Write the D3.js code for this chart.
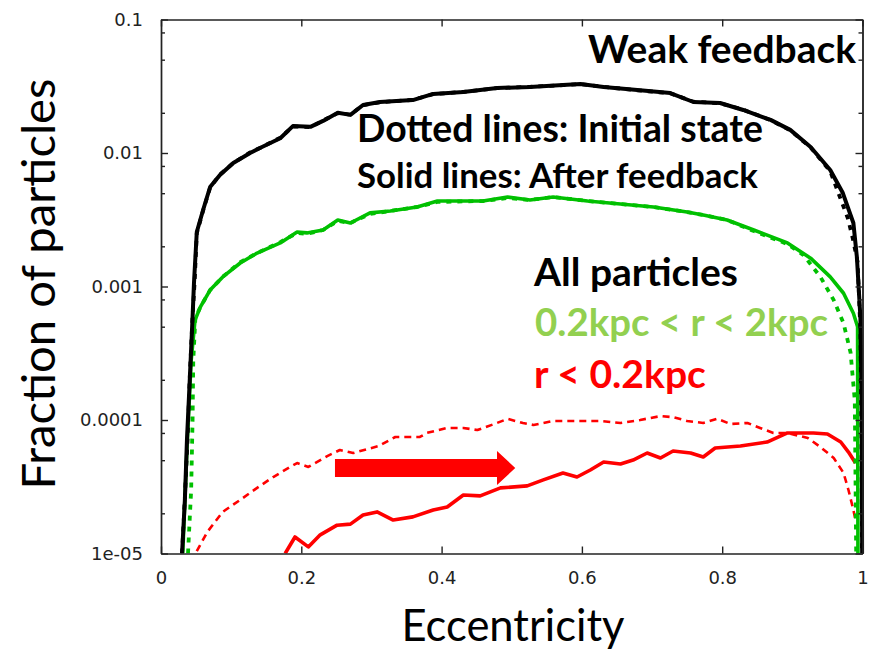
<!DOCTYPE html>
<html>
<head>
<meta charset="utf-8">
<script src="https://cdn.jsdelivr.net/npm/d3@7"></script>
<style>
  body { margin: 0; background: #fff; }
</style>
</head>
<body>
<div id="chart"></div>
<script>
// eccentricity, fraction of particles
var blackAfter = [[0.030,1.0e-5],[0.034,2.5e-5],[0.037,7.1e-5],[0.041,2.0e-4],[0.045,5.9e-4],[0.047,1.06e-3],[0.051,2.56e-3],[0.060,3.74e-3],[0.070,5.56e-3],[0.084,6.84e-3],[0.103,8.41e-3],[0.127,0.0100],[0.141,0.0109],[0.170,0.0129],[0.188,0.0159],[0.213,0.0157],[0.231,0.0174],[0.252,0.0200],[0.270,0.0193],[0.288,0.0229],[0.312,0.0241],[0.359,0.0249],[0.388,0.0277],[0.431,0.0286],[0.479,0.0307],[0.526,0.0312],[0.573,0.0323],[0.598,0.0329],[0.631,0.0312],[0.679,0.0296],[0.726,0.0281],[0.759,0.0241],[0.797,0.0237],[0.830,0.0210],[0.869,0.0177],[0.897,0.0149],[0.926,0.0111],[0.954,7.46e-3],[0.972,5.01e-3],[0.987,2.99e-3],[0.992,1.66e-3],[0.997,5.9e-4],[0.999,1.05e-4],[0.9995,1.0e-5]];
var blackInit = [[0.030,1.0e-5],[0.034,2.6e-5],[0.038,7.5e-5],[0.041,2.1e-4],[0.045,6.0e-4],[0.048,1.1e-3],[0.051,2.5e-3],[0.060,3.7e-3],[0.070,5.5e-3],[0.084,6.9e-3],[0.103,8.4e-3],[0.127,0.0101],[0.141,0.0109],[0.170,0.0130],[0.188,0.0158],[0.213,0.0156],[0.231,0.0175],[0.252,0.0199],[0.270,0.0194],[0.288,0.0228],[0.312,0.0240],[0.359,0.0250],[0.388,0.0276],[0.431,0.0287],[0.479,0.0306],[0.526,0.0313],[0.573,0.0322],[0.598,0.0328],[0.631,0.0313],[0.679,0.0295],[0.726,0.0280],[0.759,0.0242],[0.797,0.0236],[0.830,0.0211],[0.869,0.0176],[0.897,0.0148],[0.926,0.0110],[0.954,7.3e-3],[0.979,3.26e-3],[0.986,2.31e-3],[0.993,1.53e-3],[0.997,4.7e-4],[0.9986,8.4e-5],[0.9993,1.0e-5]];
var greenAfter = [[0.031,1.0e-5],[0.037,6.0e-5],[0.043,2.8e-4],[0.0485,5.6e-4],[0.056,7.0e-4],[0.070,9.4e-4],[0.088,1.18e-3],[0.113,1.50e-3],[0.137,1.78e-3],[0.170,2.12e-3],[0.194,2.56e-3],[0.208,2.52e-3],[0.231,2.65e-3],[0.252,3.15e-3],[0.270,2.99e-3],[0.298,3.56e-3],[0.327,3.68e-3],[0.365,3.94e-3],[0.394,4.37e-3],[0.459,4.37e-3],[0.494,4.68e-3],[0.526,4.45e-3],[0.559,4.68e-3],[0.608,4.37e-3],[0.655,4.15e-3],[0.702,3.94e-3],[0.750,3.61e-3],[0.773,3.43e-3],[0.807,3.15e-3],[0.845,2.65e-3],[0.893,2.12e-3],[0.926,1.63e-3],[0.954,1.18e-3],[0.973,8.9e-4],[0.987,6.3e-4],[0.993,5.0e-4],[0.9935,1.0e-5]];
var greenInit = [[0.0385,1.0e-5],[0.043,3.0e-5],[0.045,1.0e-4],[0.046,2.8e-4],[0.049,5.8e-4],[0.056,7.0e-4],[0.070,9.4e-4],[0.088,1.18e-3],[0.113,1.52e-3],[0.137,1.78e-3],[0.170,2.15e-3],[0.194,2.52e-3],[0.208,2.48e-3],[0.231,2.65e-3],[0.252,3.10e-3],[0.270,2.99e-3],[0.298,3.50e-3],[0.327,3.68e-3],[0.365,3.94e-3],[0.394,4.30e-3],[0.459,4.37e-3],[0.494,4.60e-3],[0.526,4.45e-3],[0.559,4.68e-3],[0.608,4.37e-3],[0.655,4.15e-3],[0.702,3.94e-3],[0.750,3.61e-3],[0.773,3.43e-3],[0.807,3.15e-3],[0.845,2.60e-3],[0.893,2.08e-3],[0.916,1.72e-3],[0.940,1.18e-3],[0.959,7.9e-4],[0.973,5.3e-4],[0.983,3.2e-4],[0.989,1.4e-4],[0.991,1.0e-5]];
var redAfter = [[0.177,1.0e-5],[0.191,1.33e-5],[0.210,1.12e-5],[0.227,1.38e-5],[0.251,1.63e-5],[0.270,1.66e-5],[0.288,1.94e-5],[0.308,2.05e-5],[0.331,1.78e-5],[0.359,1.88e-5],[0.388,2.12e-5],[0.408,2.23e-5],[0.431,2.74e-5],[0.455,2.70e-5],[0.484,3.10e-5],[0.522,3.21e-5],[0.545,3.56e-5],[0.573,4.01e-5],[0.593,3.74e-5],[0.612,4.22e-5],[0.631,4.84e-5],[0.655,4.68e-5],[0.673,5.01e-5],[0.693,5.66e-5],[0.712,5.19e-5],[0.730,5.86e-5],[0.755,5.66e-5],[0.773,5.28e-5],[0.790,6.17e-5],[0.826,6.38e-5],[0.864,6.84e-5],[0.893,8.0e-5],[0.930,8.0e-5],[0.950,7.86e-5],[0.969,6.84e-5],[0.980,5.75e-5],[0.990,4.76e-5]];
var redInit = [[0.051,1.04e-5],[0.066,1.45e-5],[0.088,2.05e-5],[0.117,2.61e-5],[0.137,3.10e-5],[0.160,3.74e-5],[0.184,4.45e-5],[0.194,4.76e-5],[0.210,4.45e-5],[0.237,5.37e-5],[0.255,5.96e-5],[0.274,5.66e-5],[0.310,6.38e-5],[0.334,7.46e-5],[0.369,7.46e-5],[0.379,8.0e-5],[0.408,8.72e-5],[0.431,8.72e-5],[0.451,8.41e-5],[0.479,9.50e-5],[0.494,1.02e-4],[0.516,9.50e-5],[0.531,9.18e-5],[0.559,9.84e-5],[0.598,9.84e-5],[0.626,9.84e-5],[0.655,9.50e-5],[0.683,1.0e-4],[0.712,1.07e-4],[0.730,1.05e-4],[0.750,9.84e-5],[0.773,9.50e-5],[0.793,1.02e-4],[0.812,9.33e-5],[0.836,9.50e-5],[0.854,8.72e-5],[0.873,8.0e-5],[0.893,8.0e-5],[0.922,7.33e-5],[0.940,6.28e-5],[0.959,5.19e-5],[0.973,4.01e-5],[0.980,2.99e-5],[0.987,2.12e-5],[0.990,1.78e-5]];

var xTicks = [0, 0.2, 0.4, 0.6, 0.8, 1];
var xTickLabels = ["0", "0.2", "0.4", "0.6", "0.8", "1"];
var yTicks = [1e-5, 1e-4, 1e-3, 1e-2, 1e-1];
var yTickLabels = ["1e-05", "0.0001", "0.001", "0.01", "0.1"];
var yMinorTicks = [];
[1e-5, 1e-4, 1e-3, 1e-2].forEach(function(d) { [2, 5, 8].forEach(function(m) { yMinorTicks.push(d * m); }); });

// arrow: from e=0.248 to e=0.505 at fraction 4.37e-5
var arrowE = [0.248, 0.479, 0.505];
var arrowF = 4.37e-5;

var W = 877, H = 650;
var pLeft = 161, pRight = 862.5, pTop = 19.5, pBottom = 553.5;

var svg = d3.select("#chart").append("svg")
    .attr("width", W).attr("height", H)
    .style("font-family", "Lato, 'Open Sans', sans-serif");

var x = d3.scaleLinear().domain([0, 1]).range([pLeft, pRight]);
var y = d3.scaleLog().domain([1e-5, 0.1]).range([pBottom, pTop]);

svg.append("defs").append("clipPath").attr("id", "clip")
  .append("rect").attr("x", pLeft).attr("y", pTop - 2)
  .attr("width", pRight - pLeft + 2).attr("height", pBottom - pTop + 2);

var line = d3.line()
    .x(function(d) { return x(d[0]); })
    .y(function(d) { return y(d[1]); });

var plot = svg.append("g").attr("clip-path", "url(#clip)");

function draw(data, color, width, dash) {
    plot.append("path")
        .datum(data)
        .attr("fill", "none")
        .attr("stroke", color)
        .attr("stroke-width", width)
        .attr("stroke-linejoin", "round")
        .attr("stroke-dasharray", dash)
        .attr("d", line);
}

draw(redInit, "#ff0000", 2.6, "7,5");
draw(redAfter, "#ff0000", 3.6, null);
draw(greenInit, "#00c000", 3.8, "5,6");
draw(greenAfter, "#00c000", 3.6, null);
draw(blackInit, "#000", 3.8, "5,6");
draw(blackAfter, "#000", 4, null);

// arrow
var ay = y(arrowF);
svg.append("path")
    .attr("fill", "#ff0000")
    .attr("d", d3.line()([
        [x(arrowE[0]), ay - 9], [x(arrowE[1]), ay - 9], [x(arrowE[1]), ay - 17],
        [x(arrowE[2]), ay], [x(arrowE[1]), ay + 17], [x(arrowE[1]), ay + 9],
        [x(arrowE[0]), ay + 9]
    ]) + "Z");

// axes
function styleAxis(g) {
    g.selectAll("path, line").attr("stroke", "#222").attr("stroke-width", 1.4);
    g.selectAll("text").attr("fill", "#222")
        .style("font-family", "'DejaVu Sans', sans-serif")
        .style("font-size", "18px");
}

svg.append("g").attr("transform", "translate(0," + pBottom + ")")
    .call(d3.axisBottom(x).tickValues(xTicks).tickSize(-7).tickSizeOuter(0).tickPadding(18)
        .tickFormat(function(d, i) { return xTickLabels[i]; }))
    .call(styleAxis);
svg.append("g").attr("transform", "translate(0," + pTop + ")")
    .call(d3.axisTop(x).tickValues(xTicks).tickSize(-7).tickSizeOuter(0).tickFormat(""))
    .call(styleAxis);
svg.append("g").attr("transform", "translate(" + pLeft + ",0)")
    .call(d3.axisLeft(y).tickValues(yTicks).tickSize(-7).tickSizeOuter(0).tickPadding(18)
        .tickFormat(function(d, i) { return yTickLabels[i]; }))
    .call(styleAxis);
svg.append("g").attr("transform", "translate(" + pLeft + ",0)")
    .call(d3.axisLeft(y).tickValues(yMinorTicks).tickSize(-4).tickSizeOuter(0).tickFormat(""))
    .call(styleAxis);
svg.append("g").attr("transform", "translate(" + pRight + ",0)")
    .call(d3.axisRight(y).tickValues(yTicks).tickSize(-7).tickSizeOuter(0).tickFormat(""))
    .call(styleAxis);
svg.append("g").attr("transform", "translate(" + pRight + ",0)")
    .call(d3.axisRight(y).tickValues(yMinorTicks).tickSize(-4).tickSizeOuter(0).tickFormat(""))
    .call(styleAxis);

// text, sized to the widths in the picture
function fit(t, w) {
    var cur = t.node().getComputedTextLength();
    var fs = parseFloat(t.attr("font-size"));
    t.attr("font-size", (fs * w / cur).toFixed(2));
    return t;
}

function label(txt, px, py, w, color, weight, anchor) {
    var t = svg.append("text")
        .attr("x", px).attr("y", py)
        .attr("font-size", 30)
        .attr("font-weight", weight)
        .attr("fill", color)
        .attr("text-anchor", anchor || "start")
        .text(txt);
    return fit(t, w);
}

label("Weak feedback", 856, 63, 268, "#000", "bold", "end");
label("Dotted lines: Initial state", 357, 142, 406, "#000", "bold");
label("Solid lines: After feedback", 357, 188, 401, "#000", "bold");
label("All particles", 534, 286, 204, "#000", "bold");
label("0.2kpc < r < 2kpc", 535, 336, 293, "#92d050", "bold");
label("r < 0.2kpc", 534, 388, 172, "#ff0000", "bold");

label("Eccentricity", 513, 641, 223, "#000", "normal", "middle");
var yl = svg.append("text")
    .attr("transform", "translate(55,284) rotate(-90)")
    .attr("font-size", 30)
    .attr("text-anchor", "middle")
    .attr("fill", "#000")
    .text("Fraction of particles");
fit(yl, 411);
</script>
</body>
</html>
